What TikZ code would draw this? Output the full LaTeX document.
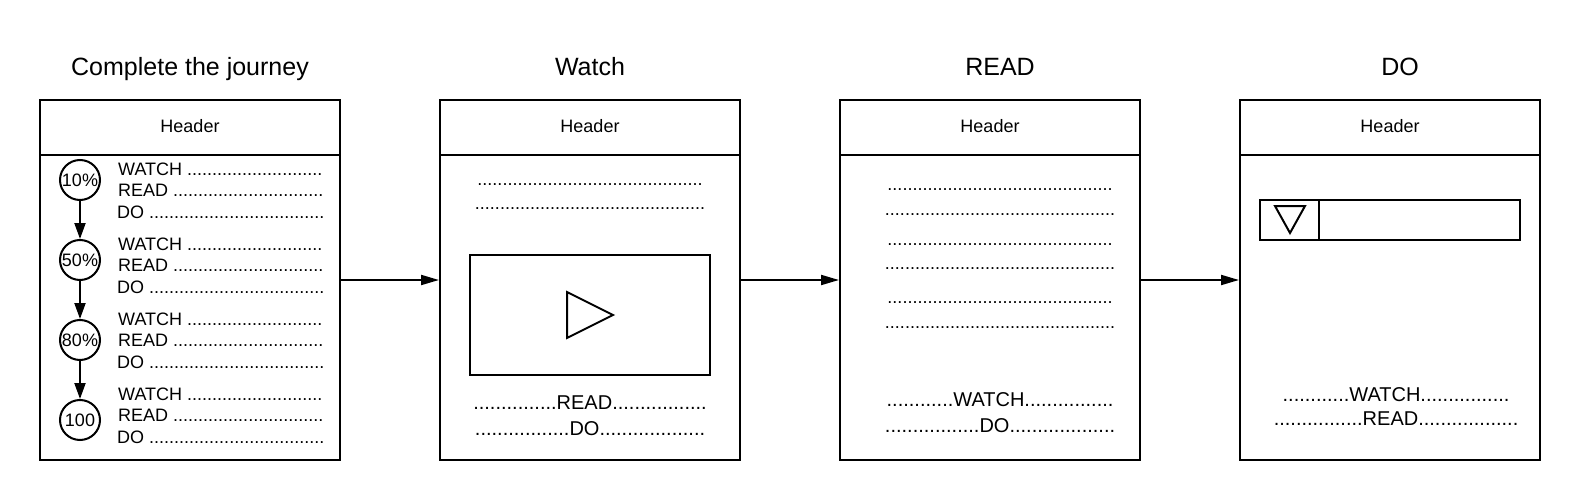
\documentclass[tikz,border=0pt]{standalone}
\usepackage{fontspec}
\setmainfont{Liberation Sans}
\usetikzlibrary{arrows.meta,positioning}

\newcommand\dotrun[1]{\foreach\k in {1,...,#1}{.}}

\tikzset{
  panel/.style={draw,line width=2pt,minimum width=300pt,minimum height=360pt},
  hdr/.style={draw,line width=2pt,minimum width=300pt,minimum height=55pt,anchor=north,text depth=4pt,font=\fontsize{18}{21}\selectfont},
  title/.style={anchor=base,font=\fontsize{25}{29}\selectfont},
  pct/.style={draw,circle,line width=2pt,minimum size=40pt,inner sep=0pt,font=\fontsize{18}{21}\selectfont},
  row/.style={anchor=west,inner sep=0pt,font=\fontsize{18}{21}\selectfont},
  dots/.style={inner sep=0pt,font=\fontsize{18}{21}\selectfont},
  mid/.style={inner sep=0pt,font=\fontsize{20}{24}\selectfont},
  arr/.style={line width=2pt,-{Triangle[length=18pt,width=10pt]}},
  darr/.style={line width=2pt,-{Triangle[length=16pt,width=11pt]}},
}

\begin{document}
\begin{tikzpicture}[x=1pt,y=-1pt]
\useasboundingbox (0,0) rectangle (1580,500);

% titles
\node[title] (t1) at (190,76) {Complete the journey};
\node[title] (t2) at (590,76) {Watch};
\node[title] (t3) at (1000,76) {READ};
\node[title] (t4) at (1400,76) {DO};

% panels with headers
\foreach \i/\x in {1/190,2/590,3/990,4/1390}{
  \node[panel] (p\i) at (\x,280) {};
  \node[hdr] (h\i) at (p\i.north) {Header};
}
\draw[arr] (p1) -- (p2);
\draw[arr] (p2) -- (p3);
\draw[arr] (p3) -- (p4);

% journey steps
\foreach \p/\c/\t [count=\i] in {10\%/180/169, 50\%/260/244, 80\%/340/319, 100/420/394}{
  \node[pct] (c\i) at (80,\c) {\p};
  \node[row] (w\i) at (118,\t) {WATCH \dotrun{27}};
  \node[row] (r\i) at (118,\t+21.5) {READ \dotrun{30}};
  \node[row] (d\i) at (117,\t+43) {DO \dotrun{35}};
}
\foreach \i/\j in {1/2,2/3,3/4}
  \draw[darr] (c\i) -- (c\j);

% watch
\node[dots] (wa) at (590,185) {\dotrun{45}};
\node[dots] (wb) at (590,209) {\dotrun{46}};
\node[draw,line width=2pt,minimum width=240pt,minimum height=120pt] (vid) at (590,315) {};
\draw[line width=2pt] (567,292) -- (613,315) -- (567,338) -- cycle;
\node[mid] (wread) at (590,403) {\dotrun{15}READ\dotrun{17}};
\node[mid] (wdo) at (590,429) {\dotrun{17}DO\dotrun{19}};

% read
\foreach \y/\n in {190/45,215/46,245/45,269/46,303/45,328/46}
  \node[dots] (line\y) at (1000,\y) {\dotrun{\n}};
\node[mid] (rwatch) at (1000,400) {\dotrun{12}WATCH\dotrun{16}};
\node[mid] (rdo) at (1000,426) {\dotrun{17}DO\dotrun{19}};

% do
\node[draw,line width=2pt,minimum width=260pt,minimum height=40pt] (drop) at (1390,220) {};
\draw[line width=2pt] ([xshift=60pt]drop.north west) -- ([xshift=60pt]drop.south west);
\draw[line width=2pt] (1275,206) -- (1305,206) -- (1290,233) -- cycle;
\node[mid] (dwatch) at (1396,395) {\dotrun{12}WATCH\dotrun{16}};
\node[mid] (dread) at (1396,419) {\dotrun{16}READ\dotrun{18}};
\end{tikzpicture}
\end{document}
